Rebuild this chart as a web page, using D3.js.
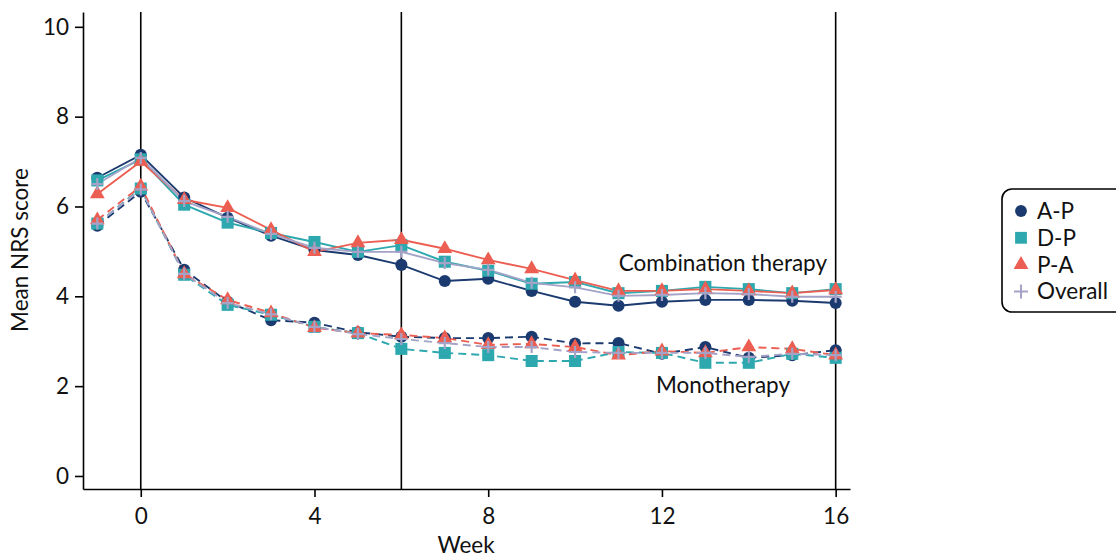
<!DOCTYPE html>
<html><head><meta charset="utf-8">
<script src="https://cdn.jsdelivr.net/npm/d3@7"></script>
<style>body{margin:0;background:#fff}svg{font-family:Lato,"Open Sans",sans-serif}</style>
</head><body><svg id="c" width="1116" height="558"></svg>
<script>
const weeks = [-1,0,1,2,3,4,5,6,7,8,9,10,11,12,13,14,15,16];
const groups = ["A-P","D-P","P-A","Overall"];
const comboAP = [6.64,7.15,6.2,5.75,5.35,5.03,4.92,4.70,4.34,4.39,4.12,3.88,3.79,3.88,3.92,3.92,3.90,3.85];
const comboDP = [6.58,7.05,6.04,5.64,5.41,5.21,4.99,5.14,4.77,4.57,4.28,4.32,4.07,4.12,4.21,4.16,4.07,4.16];
const comboPA = [6.28,7.00,6.15,5.97,5.48,4.99,5.19,5.26,5.06,4.81,4.61,4.36,4.12,4.12,4.16,4.12,4.07,4.14];
const comboAll = [6.50,7.08,6.12,5.77,5.39,5.08,4.99,4.99,4.74,4.59,4.30,4.20,4.01,4.03,4.07,4.05,3.99,3.99];
const monoAP = [5.57,6.33,4.59,3.88,3.47,3.41,3.20,3.10,3.07,3.07,3.10,2.95,2.96,2.72,2.87,2.63,2.69,2.80];
const monoDP = [5.62,6.40,4.48,3.81,3.59,3.32,3.18,2.83,2.74,2.69,2.56,2.56,2.76,2.74,2.52,2.52,2.72,2.63];
const monoPA = [5.70,6.45,4.50,3.92,3.63,3.30,3.18,3.14,3.07,2.92,2.94,2.87,2.69,2.78,2.74,2.87,2.83,2.69];
const monoAll = [5.62,6.38,4.50,3.85,3.60,3.32,3.16,3.05,2.96,2.87,2.87,2.76,2.74,2.74,2.74,2.65,2.72,2.69];
const xTicks = [0,4,8,12,16];
const yTicks = [0,2,4,6,8,10];
const refWeeks = [0,6,16];
const labels = {combo:"Combination therapy", mono:"Monotherapy", x:"Week", y:"Mean NRS score"};

const colors = {"A-P":"#1b3a6f","D-P":"#2ca8ae","P-A":"#ec5e51","Overall":"#a4a3c7"};
const symbols = {"A-P":d3.symbolCircle,"D-P":d3.symbolSquare,"P-A":d3.symbolTriangle,"Overall":null};
const sizes = {"A-P":115,"D-P":145,"P-A":95};
const combo = {"A-P":comboAP,"D-P":comboDP,"P-A":comboPA,"Overall":comboAll};
const mono = {"A-P":monoAP,"D-P":monoDP,"P-A":monoPA,"Overall":monoAll};
const FS = 22.5;

const svg = d3.select("#c");
const L=83, R=850, T=12, B=489;
const x = d3.scaleLinear().domain([-1.33,16.33]).range([L,R]);
const y = d3.scaleLinear().domain([-0.29,10.33]).range([B,T]);

const gx = svg.append("g").attr("transform",`translate(0,${B})`).call(d3.axisBottom(x).tickValues(xTicks).tickSize(8).tickSizeOuter(0).tickPadding(11));
const gy = svg.append("g").attr("transform",`translate(${L},0)`).call(d3.axisLeft(y).tickValues(yTicks).tickSize(8).tickSizeOuter(0).tickPadding(6));
[gx,gy].forEach(g=>{
  g.selectAll("path,line").attr("stroke","#000").attr("stroke-width",1.6);
  g.selectAll("text").attr("font-size",FS).attr("fill","#111").attr("font-family","Lato");
});

svg.append("g").selectAll("line").data(refWeeks).join("line")
  .attr("x1",d=>x(d)).attr("x2",d=>x(d)).attr("y1",T).attr("y2",B)
  .attr("stroke","#000").attr("stroke-width",1.6);

const line = d3.line().x((d,i)=>x(weeks[i])).y(d=>y(d));

function drawSet(data, dashed){
  groups.forEach(gname=>{
    svg.append("path").datum(data[gname]).attr("d",line).attr("fill","none")
      .attr("stroke",colors[gname]).attr("stroke-width",1.9)
      .attr("stroke-dasharray",dashed?"8,5":null);
  });
  groups.forEach(gname=>{
    const g = svg.append("g");
    data[gname].forEach((v,i)=>{
      const cx=x(weeks[i]), cy=y(v);
      if(symbols[gname]){
        g.append("path").attr("d",d3.symbol().type(symbols[gname]).size(sizes[gname])())
          .attr("transform",`translate(${cx},${cy})`).attr("fill",colors[gname]);
      } else {
        g.append("path").attr("d",`M${cx-6},${cy}H${cx+6}M${cx},${cy-6}V${cy+6}`)
          .attr("stroke",colors[gname]).attr("stroke-width",2.2);
      }
    });
  });
}
drawSet(combo,false);
drawSet(mono,true);

svg.append("text").attr("x",827).attr("y",271).attr("text-anchor","end").attr("font-size",FS).attr("fill","#111").text(labels.combo);
svg.append("text").attr("x",790).attr("y",393).attr("text-anchor","end").attr("font-size",FS).attr("fill","#111").text(labels.mono);
svg.append("text").attr("x",466).attr("y",553).attr("text-anchor","middle").attr("font-size",FS).attr("fill","#111").text(labels.x);
svg.append("text").attr("transform",`translate(28,250) rotate(-90)`).attr("text-anchor","middle").attr("font-size",FS).attr("fill","#111").text(labels.y);

const lg = svg.append("g");
lg.append("rect").attr("x",1002).attr("y",189).attr("width",124).attr("height",123).attr("rx",10)
  .attr("fill","#fff").attr("stroke","#000").attr("stroke-width",1.6);
groups.forEach((gname,i)=>{
  const cy = 211 + i*26.8, cx = 1021;
  if(symbols[gname]){
    lg.append("path").attr("d",d3.symbol().type(symbols[gname]).size(gname==="P-A"?95:(gname==="D-P"?140:110))())
      .attr("transform",`translate(${cx},${cy})`).attr("fill",colors[gname]);
  } else {
    lg.append("path").attr("d",`M${cx-7},${cy}H${cx+7}M${cx},${cy-7}V${cy+7}`).attr("stroke",colors[gname]).attr("stroke-width",2);
  }
  lg.append("text").attr("x",1037).attr("y",cy+8).attr("font-size",FS).attr("fill","#111").text(gname);
});
</script></body></html>
